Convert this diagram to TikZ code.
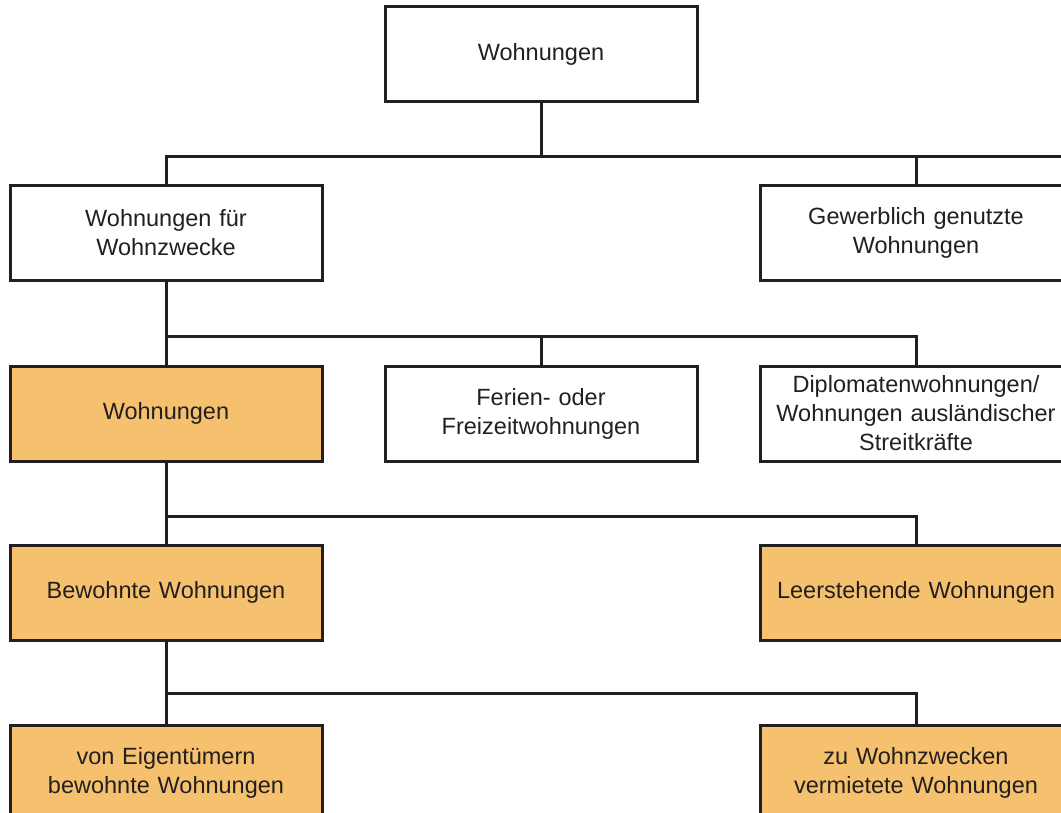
\documentclass[tikz,border=0pt]{standalone}
\usepackage{fontspec}
\setmainfont{Liberation Sans}
\definecolor{ink}{RGB}{35,31,32}
\definecolor{boxorange}{RGB}{246,193,110}
\begin{document}
\begin{tikzpicture}[x=1pt,y=-1pt,
  box/.style={draw=ink, line width=3pt, minimum width=312pt, minimum height=95pt,
    text width=300pt, align=center, inner sep=0pt, text=ink,
    font=\fontsize{23.5}{29}\selectfont},
  hl/.style={box, fill=boxorange},
  conn/.style={draw=ink, line width=3pt}]
\useasboundingbox (0,0) rectangle (1061,813);
\clip (0,0) rectangle (1061,813);
\node[box] (top) at (541,54) {Wohnungen};
\node[box] (l2) at (166,233) {Wohnungen für\\Wohnzwecke};
\node[box] (r2) at (916,233) {Gewerblich genutzte\\Wohnungen};
\node[hl] (l3) at (166,413.5) {Wohnungen};
\node[box] (m3) at (541,413.5) {Ferien- oder\\Freizeitwohnungen};
\node[box] (r3) at (916,413.5) {Diplomatenwohnungen/\\Wohnungen ausländischer\\Streitkräfte};
\node[hl] (l4) at (166,592.5) {Bewohnte Wohnungen};
\node[hl] (r4) at (916,592.5) {Leerstehende Wohnungen};
\node[hl] (l5) at (166,772.5) {von Eigentümern\\bewohnte Wohnungen};
\node[hl] (r5) at (916,772.5) {zu Wohnzwecken\\vermietete Wohnungen};
\coordinate (e1) at (1075,157);
% level 1 -> 2
\draw[conn] (top.south) -- (top.south |- e1);
\draw[conn] (l2.north) -- (l2.north |- e1) -- (e1);
\draw[conn] (r2.north) -- (r2.north |- e1);
% level 2 -> 3
\coordinate (b3) at (0,336);
\draw[conn] (l2.south) -- (l3.north);
\draw[conn] (l3.north |- b3) -| (r3.north);
\draw[conn] (m3.north) -- (m3.north |- b3);
% level 3 -> 4
\coordinate (b4) at (0,516);
\draw[conn] (l3.south) -- (l4.north);
\draw[conn] (l4.north |- b4) -| (r4.north);
% level 4 -> 5
\coordinate (b5) at (0,693);
\draw[conn] (l4.south) -- (l5.north);
\draw[conn] (l5.north |- b5) -| (r5.north);
\end{tikzpicture}
\end{document}
